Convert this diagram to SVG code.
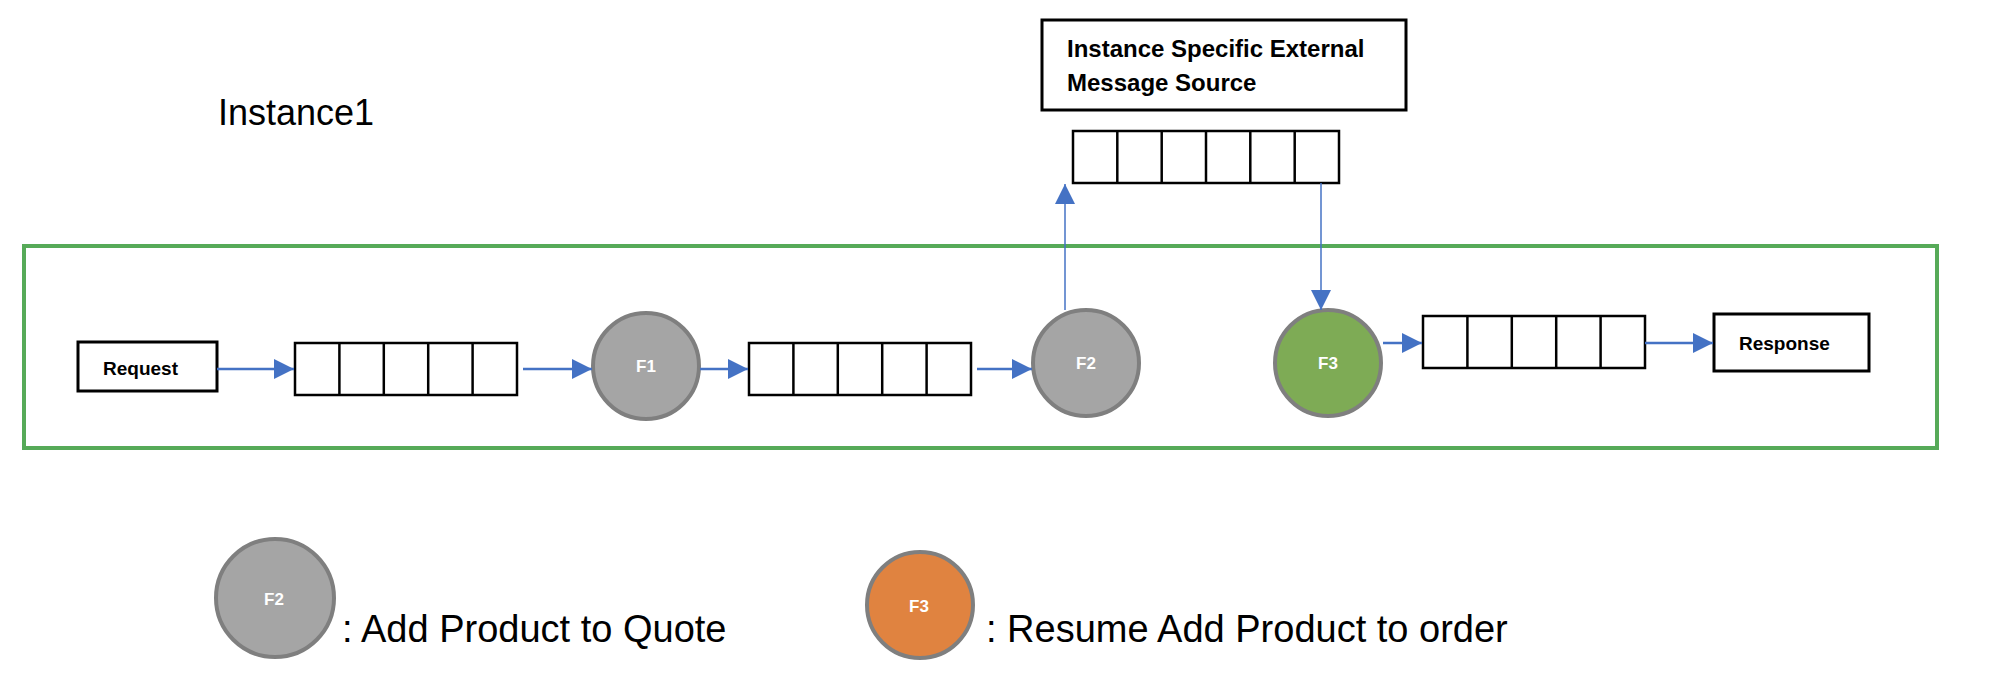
<svg xmlns="http://www.w3.org/2000/svg" width="2008" height="680" viewBox="0 0 2008 680">
  <defs>
    <marker id="ah" markerUnits="userSpaceOnUse" markerWidth="20" markerHeight="20" refX="20" refY="10" orient="auto">
      <path d="M0,0 L20,10 L0,20 z" fill="#4472C4"/>
    </marker>
    <style>
      .box { fill: #ffffff; stroke: #000000; stroke-width: 3; }
      .q { fill: #ffffff; stroke: #000000; stroke-width: 2.5; }
      .qd { stroke: #000000; stroke-width: 2.5; }
      .fn { stroke: #7F7F7F; stroke-width: 4; }
      .gray { fill: #A5A5A5; }
      .green { fill: #7EAB55; }
      .orange { fill: #E08340; }
      .conn { stroke: #4472C4; stroke-width: 2.5; fill: none; marker-end: url(#ah); }
      .thin { stroke: #4472C4; stroke-width: 1.5; fill: none; marker-end: url(#ah); }
      .lbl { font-family: "Liberation Sans", Arial, sans-serif; font-weight: bold; fill: #000000; }
      .flbl { font-family: "Liberation Sans", Arial, sans-serif; font-weight: bold; fill: #ffffff; font-size: 17px; text-anchor: middle; }
      .big { font-family: "Liberation Sans", Arial, sans-serif; fill: #000000; }
    </style>
  </defs>

  <rect id="instance-frame" x="24" y="246" width="1913" height="202" fill="none" stroke="#56AA58" stroke-width="4"/>

  <g id="title">
    <text class="big" x="218" y="125" font-size="36">Instance1</text>
  </g>

  <g id="external-source">
    <rect class="box" x="1042" y="20" width="364" height="90"/>
    <text class="lbl" x="1067" y="57" font-size="24">Instance Specific External</text>
    <text class="lbl" x="1067" y="91" font-size="24">Message Source</text>
  </g>

  <g id="external-queue">
    <rect class="q" x="1073" y="131" width="266" height="52"/>
    <line class="qd" x1="1117.3" y1="131" x2="1117.3" y2="183"/>
    <line class="qd" x1="1161.7" y1="131" x2="1161.7" y2="183"/>
    <line class="qd" x1="1206" y1="131" x2="1206" y2="183"/>
    <line class="qd" x1="1250.3" y1="131" x2="1250.3" y2="183"/>
    <line class="qd" x1="1294.7" y1="131" x2="1294.7" y2="183"/>
  </g>

  <g id="request">
    <rect class="box" x="78" y="342" width="139" height="49"/>
    <text class="lbl" x="103" y="375" font-size="19">Request</text>
  </g>

  <g id="queue1">
    <rect class="q" x="295" y="343" width="222" height="52"/>
    <line class="qd" x1="339.4" y1="343" x2="339.4" y2="395"/>
    <line class="qd" x1="383.8" y1="343" x2="383.8" y2="395"/>
    <line class="qd" x1="428.2" y1="343" x2="428.2" y2="395"/>
    <line class="qd" x1="472.6" y1="343" x2="472.6" y2="395"/>
  </g>

  <g id="f1">
    <circle class="fn gray" cx="646" cy="366" r="53"/>
    <text class="flbl" x="646" y="372">F1</text>
  </g>

  <g id="queue2">
    <rect class="q" x="749" y="343" width="222" height="52"/>
    <line class="qd" x1="793.4" y1="343" x2="793.4" y2="395"/>
    <line class="qd" x1="837.8" y1="343" x2="837.8" y2="395"/>
    <line class="qd" x1="882.2" y1="343" x2="882.2" y2="395"/>
    <line class="qd" x1="926.6" y1="343" x2="926.6" y2="395"/>
  </g>

  <g id="f2">
    <circle class="fn gray" cx="1086" cy="363" r="53"/>
    <text class="flbl" x="1086" y="369">F2</text>
  </g>

  <g id="f3">
    <circle class="fn green" cx="1328" cy="363" r="53"/>
    <text class="flbl" x="1328" y="369">F3</text>
  </g>

  <g id="queue3">
    <rect class="q" x="1423" y="316" width="222" height="52"/>
    <line class="qd" x1="1467.4" y1="316" x2="1467.4" y2="368"/>
    <line class="qd" x1="1511.8" y1="316" x2="1511.8" y2="368"/>
    <line class="qd" x1="1556.2" y1="316" x2="1556.2" y2="368"/>
    <line class="qd" x1="1600.6" y1="316" x2="1600.6" y2="368"/>
  </g>

  <g id="response">
    <rect class="box" x="1714" y="314" width="155" height="57"/>
    <text class="lbl" x="1739" y="350" font-size="19">Response</text>
  </g>

  <g id="connectors">
    <line class="conn" x1="217" y1="369" x2="294" y2="369"/>
    <line class="conn" x1="523" y1="369" x2="592" y2="369"/>
    <line class="conn" x1="700" y1="369" x2="748" y2="369"/>
    <line class="conn" x1="977" y1="369" x2="1032" y2="369"/>
    <line class="thin" x1="1065" y1="310" x2="1065" y2="184"/>
    <line class="thin" x1="1321" y1="183" x2="1321" y2="310"/>
    <line class="conn" x1="1383" y1="343" x2="1422" y2="343"/>
    <line class="conn" x1="1645" y1="343" x2="1713" y2="343"/>
  </g>

  <g id="legend-f2">
    <circle class="fn gray" cx="275" cy="598" r="59"/>
    <text class="flbl" x="274" y="605" font-size="18">F2</text>
    <text class="big" x="342" y="642" font-size="38">: Add Product to Quote</text>
  </g>

  <g id="legend-f3">
    <circle class="fn orange" cx="920" cy="605" r="53"/>
    <text class="flbl" x="919" y="612" font-size="18">F3</text>
    <text class="big" x="986" y="642" font-size="38">: Resume Add Product to order</text>
  </g>
</svg>
